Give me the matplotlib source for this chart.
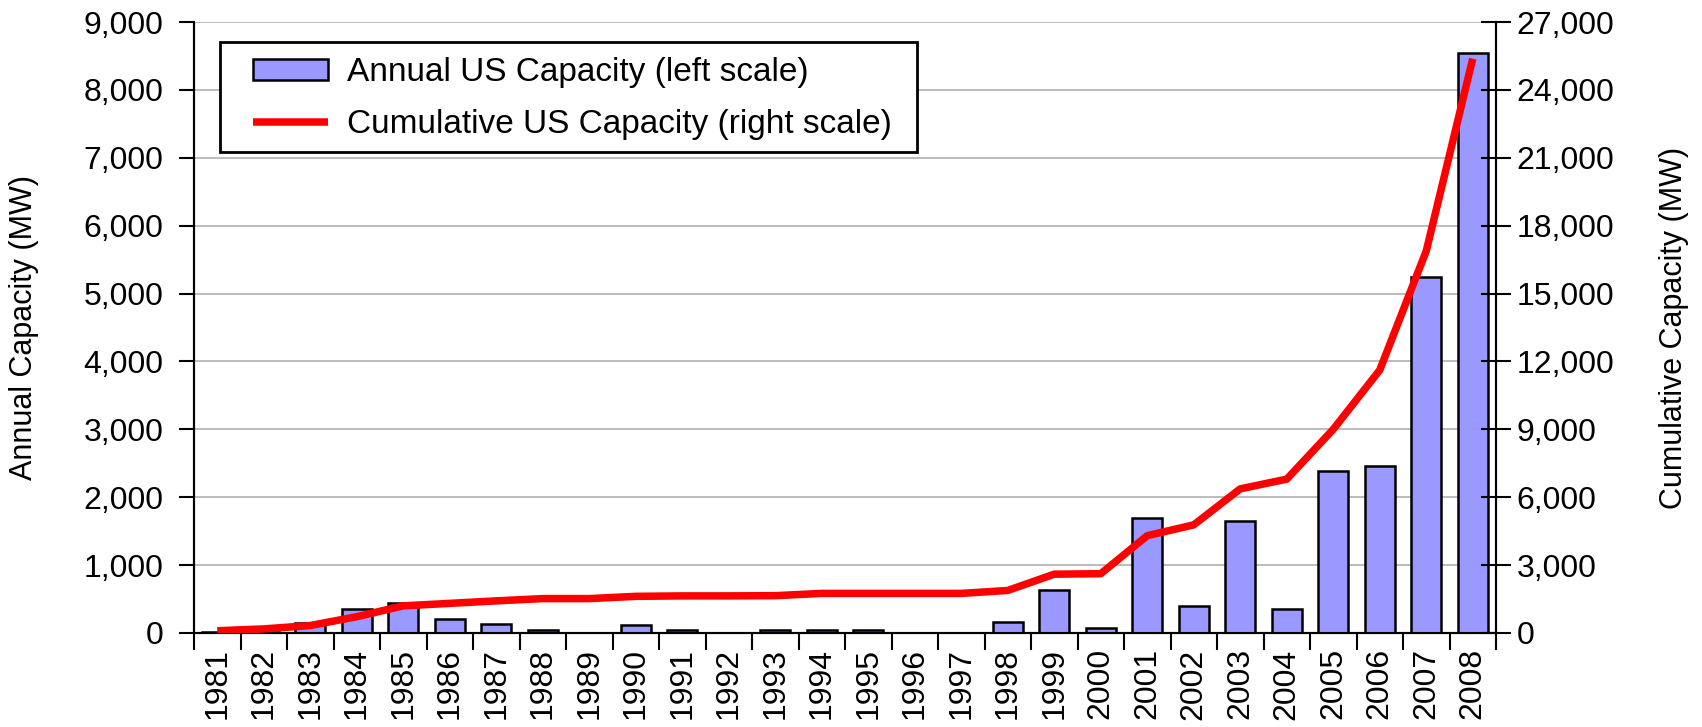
import matplotlib
matplotlib.use("Agg")
import matplotlib.pyplot as plt
from matplotlib.ticker import FuncFormatter, FixedLocator
from matplotlib.patches import Rectangle
import numpy as np

plt.rcParams['font.family'] = ['Liberation Sans', 'DejaVu Sans']

years = [str(y) for y in range(1981, 2009)]
annual = [10, 10, 150, 360, 440, 200, 130, 50, 0, 120, 40, 0, 40, 40, 40, 0, 0,
          160, 640, 80, 1690, 400, 1650, 360, 2380, 2460, 5250, 8550]
cumulative = [100, 180, 330, 720, 1200, 1310, 1420, 1520, 1520, 1620, 1640, 1640,
              1650, 1750, 1750, 1750, 1750, 1880, 2600, 2620, 4300, 4780, 6370,
              6800, 9000, 11620, 16880, 25380]
left_ticks = list(range(0, 9001, 1000))
right_ticks = list(range(0, 27001, 3000))

W, H = 1702, 727
fig = plt.figure(figsize=(W / 100, H / 100), dpi=100)
ax = fig.add_axes([194 / W, 1 - 633 / H, (1496 - 194) / W, (633 - 22) / H])
ax2 = ax.twinx()

x = np.arange(len(years))
bars = ax.bar(x, annual, width=0.65, color='#9999FF', edgecolor='black',
              linewidth=1.8, zorder=3, label='Annual US Capacity (left scale)')
ax.set_xlim(-0.5, len(years) - 0.5)
ax.set_ylim(0, 9000)
ax.set_yticks(left_ticks)
ax.yaxis.set_major_formatter(FuncFormatter(lambda v, p: f"{int(v):,}"))
ax.grid(axis='y', color='#B0B0B0', linewidth=1.2, zorder=0)
ax.set_axisbelow(True)

ax.set_xticks(x)
ax.set_xticklabels(years, rotation=90, fontsize=23)
ax.xaxis.set_minor_locator(FixedLocator(np.arange(-0.5, len(years), 1.0)))
ax.tick_params(axis='x', which='major', length=0, pad=11)
ax.tick_params(axis='x', which='minor', length=12, width=1.5, direction='out')
ax.tick_params(axis='y', which='major', length=11, width=1.5, direction='out',
               labelsize=23, pad=11)

line, = ax2.plot(x, cumulative, color='#FF0000', linewidth=5.4,
                 solid_joinstyle='round', solid_capstyle='butt', zorder=4,
                 label='Cumulative US Capacity (right scale)')
ax2.set_ylim(0, 27000)
ax2.set_yticks(right_ticks)
ax2.yaxis.set_major_formatter(FuncFormatter(lambda v, p: f"{int(v):,}"))
ax2.tick_params(axis='y', length=22, width=1.5, direction='inout', labelsize=23, pad=4)

for a in (ax, ax2):
    a.spines['top'].set_visible(False)
    for s in ('left', 'right', 'bottom'):
        a.spines[s].set_linewidth(1.5)
        a.spines[s].set_color('black')

ax.set_ylabel('Annual Capacity (MW)', fontsize=22)
ax2.set_ylabel('Cumulative Capacity (MW)', fontsize=22)
ax.yaxis.set_label_coords(-0.119, 0.5)
ax2.yaxis.set_label_coords(1.125, 0.5)

# legend frame
frame = Rectangle((26 / 1302, (633 - 151.7) / 611), 697 / 1302, 110 / 611,
                  transform=ax2.transAxes, facecolor='white', edgecolor='black',
                  linewidth=2.0, zorder=5, clip_on=False)
ax2.add_patch(frame)

leg = ax2.legend([bars, line], [bars.get_label(), line.get_label()],
                 loc='upper left', bbox_to_anchor=(59 / 1302, (633 - 57) / 611),
                 borderaxespad=0, borderpad=0, fontsize=24, frameon=False,
                 handlelength=2.25, handleheight=0.6, labelspacing=0.64,
                 handletextpad=0.57)
leg.set_zorder(6)

fig.savefig('out.png', dpi=100)
